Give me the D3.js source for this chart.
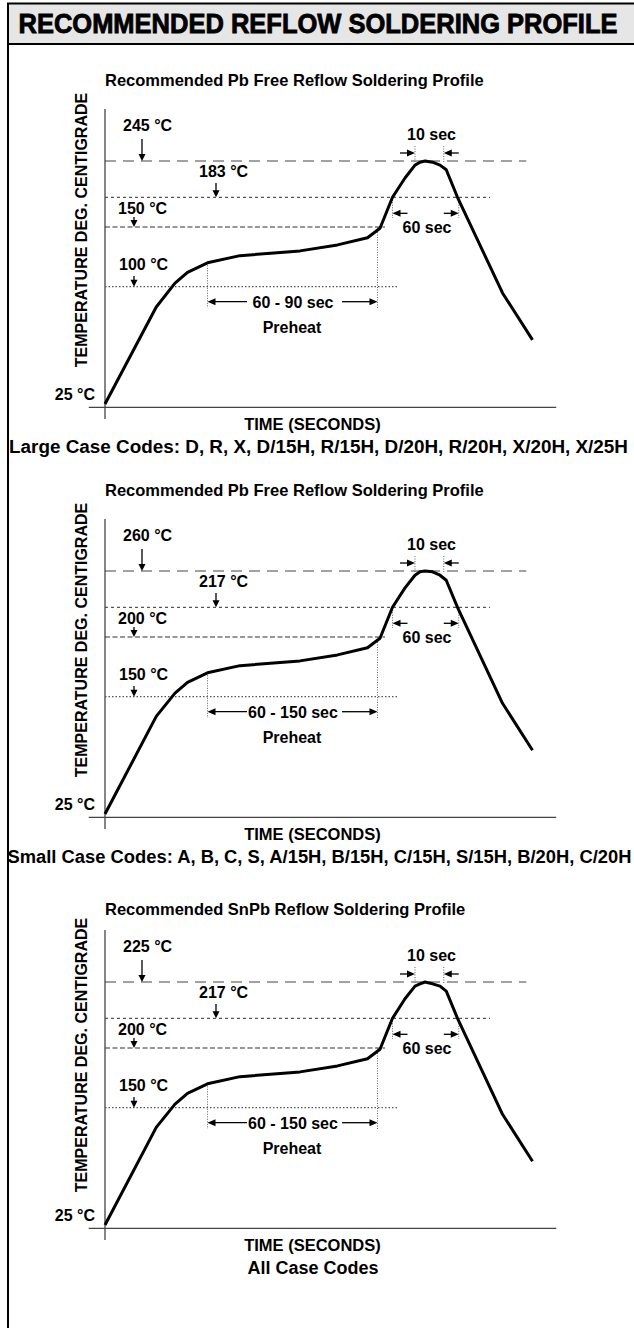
<!DOCTYPE html>
<html lang="en">
<head>
<meta charset="utf-8">
<title>Recommended Reflow Soldering Profile</title>
<script src="https://d3js.org/d3.v7.min.js"></script>
<style>
  body { margin: 0; background: #fff; }
  svg text { font-family: "Liberation Sans", Arial, Helvetica, sans-serif; font-weight: bold; fill: #000; }
</style>
</head>
<body>
<div id="chart"></div>
<script>
// ---- data ----
const headerTitle = "RECOMMENDED REFLOW SOLDERING PROFILE"
const chartTitles = [
  "Recommended Pb Free Reflow Soldering Profile",
  "Recommended Pb Free Reflow Soldering Profile",
  "Recommended SnPb Reflow Soldering Profile"
]
// temperature levels marked on each chart (°C), bottom to top
const levelsLarge = [25, 100, 150, 183, 245]
const levelsSmall = [25, 150, 200, 217, 260]
const levelsSnPb = [25, 150, 200, 217, 225]
// profile (schematic seconds) and temperatures for each chart
const profileTimes = [0, 41, 56, 66, 82, 108, 156, 186, 210, 220, 230, 240, 248, 252, 256, 262, 268, 273, 282, 318, 342]
const tempsLarge = [25, 87, 103, 112, 120, 126, 130, 135, 141, 149, 183, 216, 238, 243, 245, 243, 238, 230, 183, 96, 66]
const tempsSmall = [25, 129, 153, 162, 170, 176, 180, 185, 191, 199, 217, 240, 255, 259, 260, 259, 255, 249, 217, 143, 93]
const tempsSnPb = [25, 129, 153, 162, 170, 176, 180, 185, 191, 199, 217, 221.3, 224.1, 224.6, 225, 224.6, 224.1, 223, 217, 143, 93]
// where the reference lines stop (seconds), levels 1..4
const levelEnds = [234, 224, 308, 337]
const preheatTimes = [82, 218]
const liquidusTimes = [230, 283]
const peakTimes = [248, 271]
const preheatLabels = ["60 - 90 sec", "60 - 150 sec", "60 - 150 sec"]
const peakLabel = "10 sec"
const liquidusLabel = "60 sec"
const caseCodes = [
  "Large Case Codes: D, R, X, D/15H, R/15H, D/20H, R/20H, X/20H, X/25H",
  "Small Case Codes: A, B, C, S, A/15H, B/15H, C/15H, S/15H, B/20H, C/20H",
  "All Case Codes"
]

const charts = [
  { title: chartTitles[0], levels: levelsLarge, temps: tempsLarge, preheat: preheatLabels[0], codes: caseCodes[0] },
  { title: chartTitles[1], levels: levelsSmall, temps: tempsSmall, preheat: preheatLabels[1], codes: caseCodes[1] },
  { title: chartTitles[2], levels: levelsSnPb, temps: tempsSnPb, preheat: preheatLabels[2], codes: caseCodes[2] }
]

// ---- layout ----
const W = 634, H = 1328
const offsets = [0, 410, 821]
const titleShift = [0, 0, 8]
const levelY = [404, 286.7, 227, 197.3, 161]
const dashes = ["1.5,2", "5,2.5", "3,3", "11,7"]
const lineColors = ["#555", "#333", "#555", "#444"]
// label x, baseline above line, arrow x, arrow length (levels 1..4)
const levelLabelPos = [
  { x: 119, dy: 16.7, ax: 134, len: 10.7 },
  { x: 118, dy: 13, ax: 134, len: 10 },
  { x: 199, dy: 20.3, ax: 216, len: 14.3 },
  { x: 123, dy: 30, ax: 142, len: 22 }
]
// case code lines: centre x, width
const codesPos = [
  { cx: 318.5, len: 619 },
  { cx: 319.5, len: 624 },
  { cx: 313, len: null }
]

const svg = d3.select("#chart").append("svg")
  .attr("width", W)
  .attr("height", H)

svg.append("rect").attr("width", W).attr("height", H).attr("fill", "#fff")

// frame + header
svg.append("line")
  .attr("x1", 8).attr("x2", 8).attr("y1", 3).attr("y2", H)
  .attr("stroke", "#000").attr("stroke-width", 2)
svg.append("rect")
  .attr("x", 8).attr("y", 3.5).attr("width", W - 7).attr("height", 40.5)
  .attr("fill", "#e6e6e6").attr("stroke", "#000").attr("stroke-width", 2)
svg.append("text")
  .attr("transform", "translate(318,32.5) scale(1,1.12)")
  .attr("text-anchor", "middle")
  .style("font-size", "25.5px")
  .style("stroke", "#000").style("stroke-width", 0.8)
  .text(headerTitle)

const x = d3.scaleLinear().domain([0, 360]).range([105, 555])

function downArrow(g, ax, tipY, len) {
  g.append("line")
    .attr("x1", ax).attr("x2", ax).attr("y1", tipY - len).attr("y2", tipY - 5)
    .attr("stroke", "#000").attr("stroke-width", 1.3)
  g.append("path")
    .attr("d", `M${ax - 3.5},${tipY - 7}L${ax + 3.5},${tipY - 7}L${ax},${tipY}Z`)
    .attr("fill", "#000")
}

function hArrow(g, tail, tip, y) {
  const dir = tip > tail ? 1 : -1
  g.append("line")
    .attr("x1", tail).attr("x2", tip - dir * 5).attr("y1", y).attr("y2", y)
    .attr("stroke", "#000").attr("stroke-width", 1.3)
  g.append("path")
    .attr("d", `M${tip - dir * 8},${y - 3.5}L${tip - dir * 8},${y + 3.5}L${tip},${y}Z`)
    .attr("fill", "#000")
}

function vDotted(g, xx, y1, y2) {
  g.append("line")
    .attr("x1", xx).attr("x2", xx).attr("y1", y1).attr("y2", y2)
    .attr("stroke", "#666").attr("stroke-width", 1)
    .attr("stroke-dasharray", "1,1.5")
}

charts.forEach(function(c, k) {
  const g = svg.append("g").attr("transform", `translate(0,${offsets[k]})`)
  const y = d3.scaleLinear().domain(c.levels).range(levelY)

  // title
  g.append("text")
    .attr("x", 105).attr("y", 86 + titleShift[k])
    .style("font-size", "16.5px")
    .text(c.title)

  // y axis label
  g.append("text")
    .attr("transform", `translate(87,${230 + titleShift[k] / 2}) rotate(-90)`)
    .attr("text-anchor", "middle")
    .style("font-size", "16px")
    .text("TEMPERATURE DEG. CENTIGRADE")

  // axes (no ticks in the original)
  g.append("line")
    .attr("x1", x(0)).attr("x2", x(0)).attr("y1", 109).attr("y2", 419)
    .attr("stroke", "#444").attr("stroke-width", 1.3)
  g.append("line")
    .attr("x1", x(-13)).attr("x2", x(361)).attr("y1", 407.3).attr("y2", 407.3)
    .attr("stroke", "#444").attr("stroke-width", 1.3)

  // reference temperature lines
  for (let i = 1; i < c.levels.length; i++) {
    g.append("line")
      .attr("x1", x(0)).attr("x2", x(levelEnds[i - 1]))
      .attr("y1", y(c.levels[i])).attr("y2", y(c.levels[i]))
      .attr("stroke", lineColors[i - 1]).attr("stroke-width", 1.2)
      .attr("stroke-dasharray", dashes[i - 1])
    const p = levelLabelPos[i - 1]
    g.append("text")
      .attr("x", p.x).attr("y", y(c.levels[i]) - p.dy)
      .style("font-size", "16px")
      .text(c.levels[i] + " °C")
    downArrow(g, p.ax, y(c.levels[i]), p.len)
  }

  // 25 °C
  g.append("text")
    .attr("x", 95).attr("y", 400)
    .attr("text-anchor", "end")
    .style("font-size", "16px")
    .text(c.levels[0] + " °C")

  // marker lines
  vDotted(g, x(preheatTimes[0]), y(c.temps[4]), 308)
  vDotted(g, x(preheatTimes[1]), y(c.levels[2]), 308)
  vDotted(g, x(liquidusTimes[0]), y(c.levels[3]), 218)
  vDotted(g, x(liquidusTimes[1]), y(c.levels[3]), 218)
  vDotted(g, x(peakTimes[0]), 146, y(c.levels[4]) + 1)
  vDotted(g, x(peakTimes[1]), 146, y(c.levels[4]) + 2)

  // profile curve
  const line = d3.line()
    .x(d => x(d[0]))
    .y(d => y(d[1]))
  g.append("path")
    .datum(d3.zip(profileTimes, c.temps))
    .attr("d", line)
    .attr("fill", "none")
    .attr("stroke", "#000")
    .attr("stroke-width", 3)
    .attr("stroke-linejoin", "round")

  // preheat arrows
  hArrow(g, 247, x(preheatTimes[0]), 301.7)
  hArrow(g, 342, x(preheatTimes[1]), 301.7)
  g.append("text")
    .attr("x", 293).attr("y", 308)
    .attr("text-anchor", "middle")
    .style("font-size", "16px")
    .text(c.preheat)
  g.append("text")
    .attr("x", 292).attr("y", 332.7)
    .attr("text-anchor", "middle")
    .style("font-size", "16px")
    .text("Preheat")

  // peak window (10 sec)
  hArrow(g, x(peakTimes[0]) - 15, x(peakTimes[0]), 153)
  hArrow(g, x(peakTimes[1]) + 15, x(peakTimes[1]), 153)
  g.append("text")
    .attr("x", 431.5).attr("y", 140)
    .attr("text-anchor", "middle")
    .style("font-size", "16px")
    .text(peakLabel)

  // time above liquidus (60 sec)
  hArrow(g, x(liquidusTimes[0]) + 15, x(liquidusTimes[0]), 213.3)
  hArrow(g, x(liquidusTimes[1]) - 15, x(liquidusTimes[1]), 213.3)
  g.append("text")
    .attr("x", 427).attr("y", 233)
    .attr("text-anchor", "middle")
    .style("font-size", "16px")
    .text(liquidusLabel)

  // x axis label + case codes
  g.append("text")
    .attr("x", 312.5).attr("y", 430)
    .attr("text-anchor", "middle")
    .style("font-size", "16.5px")
    .text("TIME (SECONDS)")
  const codes = g.append("text")
    .attr("x", codesPos[k].cx).attr("y", 453)
    .attr("text-anchor", "middle")
    .style("font-size", "18px")
    .text(c.codes)
  if (codesPos[k].len) {
    codes.attr("textLength", codesPos[k].len).attr("lengthAdjust", "spacingAndGlyphs")
  }
})
</script>
</body>
</html>
